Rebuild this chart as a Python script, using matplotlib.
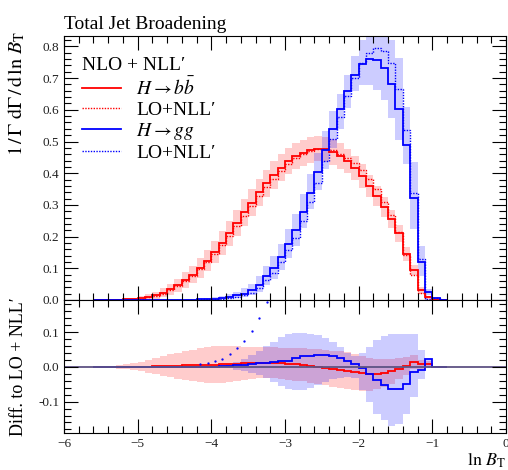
import numpy as np
import matplotlib
matplotlib.use("Agg")
import matplotlib.pyplot as plt
from matplotlib.ticker import MultipleLocator, FormatStrFormatter
from matplotlib.lines import Line2D

plt.rcParams['font.family'] = ['Liberation Serif', 'DejaVu Serif']
plt.rcParams['mathtext.fontset'] = 'stix'
plt.rcParams['axes.unicode_minus'] = True

# bin edges of ln B_T, 0.1 wide, from -5.6 to -0.8
edges = np.round(np.arange(-5.6, -0.75, 0.1), 1)

# H -> bb, NLO+NLL' and LO+NLL'
bb_nlo = [0.000, 0.000, 0.001, 0.001, 0.002, 0.003, 0.005, 0.009, 0.014, 0.022,
          0.033, 0.046, 0.062, 0.080, 0.101, 0.124, 0.151, 0.179, 0.210, 0.243,
          0.276, 0.307, 0.339, 0.368, 0.394, 0.417, 0.438, 0.454, 0.465, 0.473,
          0.477, 0.475, 0.467, 0.454, 0.438, 0.417, 0.391, 0.360, 0.328, 0.293,
          0.255, 0.210, 0.146, 0.094, 0.030, 0.008, 0.001, 0.000]
bb_lo = [0.000, 0.000, 0.001, 0.001, 0.001, 0.002, 0.004, 0.008, 0.012, 0.020,
         0.030, 0.043, 0.058, 0.076, 0.096, 0.119, 0.145, 0.172, 0.202, 0.234,
         0.266, 0.296, 0.327, 0.356, 0.382, 0.407, 0.429, 0.447, 0.459, 0.470,
         0.476, 0.477, 0.472, 0.462, 0.449, 0.431, 0.409, 0.381, 0.349, 0.310,
         0.267, 0.215, 0.143, 0.079, 0.023, 0.000, 0.001, 0.000]
bb_err = [0.000, 0.001, 0.001, 0.002, 0.003, 0.004, 0.006, 0.008, 0.011, 0.014,
          0.018, 0.021, 0.025, 0.028, 0.031, 0.034, 0.036, 0.038, 0.040, 0.041,
          0.042, 0.043, 0.043, 0.043, 0.043, 0.042, 0.042, 0.041, 0.041, 0.040,
          0.040, 0.040, 0.040, 0.040, 0.039, 0.038, 0.037, 0.035, 0.033, 0.031,
          0.029, 0.026, 0.022, 0.016, 0.010, 0.004, 0.001, 0.000]

# H -> gg, NLO+NLL' and LO+NLL'
gg_nlo = [0.000, 0.000, 0.000, 0.000, 0.000, 0.000, 0.000, 0.000, 0.000, 0.000,
          0.000, 0.000, 0.001, 0.001, 0.002, 0.003, 0.004, 0.006, 0.009, 0.014,
          0.020, 0.030, 0.048, 0.075, 0.100, 0.134, 0.176, 0.221, 0.278, 0.338,
          0.403, 0.473, 0.541, 0.603, 0.661, 0.709, 0.745, 0.759, 0.756, 0.732,
          0.682, 0.602, 0.488, 0.323, 0.120, 0.024, 0.005, 0.000]
gg_lo = [0.000, 0.000, 0.000, 0.000, 0.000, 0.000, 0.000, 0.000, 0.000, 0.000,
         0.000, 0.000, 0.001, 0.001, 0.002, 0.003, 0.003, 0.004, 0.006, 0.010,
         0.014, 0.022, 0.038, 0.063, 0.086, 0.118, 0.158, 0.196, 0.248, 0.308,
         0.370, 0.440, 0.509, 0.578, 0.644, 0.700, 0.749, 0.780, 0.794, 0.785,
         0.747, 0.667, 0.536, 0.337, 0.130, 0.002, 0.005, 0.000]
gg_up = [0.000, 0.000, 0.000, 0.000, 0.000, 0.000, 0.000, 0.000, 0.000, 0.000,
         0.000, 0.000, 0.001, 0.001, 0.002, 0.003, 0.004, 0.006, 0.008, 0.012,
         0.016, 0.021, 0.027, 0.033, 0.038, 0.043, 0.047, 0.050, 0.056, 0.060,
         0.062, 0.060, 0.055, 0.048, 0.050, 0.062, 0.075, 0.090, 0.095, 0.120,
         0.138, 0.162, 0.120, 0.111, 0.050, 0.010, 0.002, 0.000]
gg_dn = [0.000, 0.000, 0.000, 0.000, 0.000, 0.000, 0.000, 0.000, 0.000, 0.000,
         0.000, 0.000, 0.001, 0.001, 0.002, 0.002, 0.003, 0.004, 0.006, 0.009,
         0.012, 0.016, 0.022, 0.028, 0.034, 0.040, 0.045, 0.050, 0.050, 0.052,
         0.055, 0.060, 0.063, 0.062, 0.055, 0.048, 0.066, 0.080, 0.093, 0.100,
         0.107, 0.096, 0.060, 0.100, 0.044, 0.010, 0.002, 0.000]

# lower panel uncertainty bands
bb_diff_err = [0.001, 0.002, 0.003, 0.005, 0.007, 0.010, 0.014, 0.018, 0.023, 0.028,
               0.033, 0.038, 0.042, 0.046, 0.049, 0.052, 0.053, 0.053, 0.052, 0.050,
               0.048, 0.046, 0.045, 0.044, 0.044, 0.045, 0.046, 0.047, 0.048, 0.049,
               0.050, 0.051, 0.052, 0.053, 0.053, 0.052, 0.050, 0.047, 0.044, 0.040,
               0.036, 0.031, 0.026, 0.020, 0.014, 0.008, 0.002, 0.000]
gg_diff_hi = [0.000, 0.000, 0.000, 0.000, 0.000, 0.000, 0.000, 0.000, 0.000, 0.000,
              0.000, 0.000, 0.000, 0.000, 0.000, 0.000, 0.001, 0.003, 0.008, 0.015,
              0.024, 0.034, 0.046, 0.060, 0.072, 0.087, 0.096, 0.099, 0.099, 0.096,
              0.092, 0.082, 0.072, 0.058, 0.040, 0.032, 0.039, 0.058, 0.077, 0.089,
              0.094, 0.095, 0.095, 0.095, 0.048, 0.019, 0.000, 0.000]
gg_diff_lo = [0.000, 0.000, 0.000, 0.000, 0.000, 0.000, 0.000, 0.000, 0.000, 0.000,
              0.000, 0.000, 0.000, 0.000, 0.000, 0.000, -0.001, -0.002, -0.004, -0.008,
              -0.012, -0.018, -0.024, -0.032, -0.043, -0.056, -0.063, -0.066, -0.066, -0.060,
              -0.053, -0.043, -0.036, -0.031, -0.029, -0.031, -0.067, -0.101, -0.135, -0.154,
              -0.169, -0.164, -0.135, -0.087, -0.036, -0.002, 0.000, 0.000]

# isolated blue dots in the lower panel
gg_dot_x = [-4.15, -4.05, -3.95, -3.85, -3.75, -3.65, -3.55, -3.45, -3.35, -3.25]
gg_dot_y = [0.007, 0.010, 0.016, 0.024, 0.037, 0.053, 0.075, 0.104, 0.142, 0.188]

bb_nlo, bb_lo, bb_err = np.array(bb_nlo), np.array(bb_lo), np.array(bb_err)
gg_nlo, gg_lo = np.array(gg_nlo), np.array(gg_lo)
gg_up, gg_dn = np.array(gg_up), np.array(gg_dn)
bb_diff = bb_nlo - bb_lo
gg_diff = gg_nlo - gg_lo
bb_diff_err = np.array(bb_diff_err)

red = '#ff0000'
blue = '#0000ff'
dot = (0, (1, 1))

fig = plt.figure(figsize=(5.08, 4.70), dpi=100)
ax1 = fig.add_axes([0.126, 0.362, 0.870, 0.562])
ax2 = fig.add_axes([0.126, 0.079, 0.870, 0.283])

# main panel
ax1.stairs(bb_nlo + bb_err, edges, baseline=bb_nlo - bb_err, fill=True, color=red, alpha=0.2, lw=0)
ax1.stairs(gg_nlo + gg_up, edges, baseline=gg_nlo - gg_dn, fill=True, color=blue, alpha=0.2, lw=0)
ax1.stairs(bb_lo, edges, color=red, lw=1.0, ls=dot)
ax1.stairs(gg_lo, edges, color=blue, lw=1.0, ls=dot)
ax1.stairs(bb_nlo, edges, color=red, lw=1.3)
ax1.stairs(gg_nlo, edges, color=blue, lw=1.3)

# lower panel
ax2.stairs(bb_diff + bb_diff_err, edges, baseline=bb_diff - bb_diff_err, fill=True, color=red, alpha=0.2, lw=0)
ax2.stairs(gg_diff_hi, edges, baseline=gg_diff_lo, fill=True, color=blue, alpha=0.2, lw=0)
ax2.axhline(0, color='#5e5384', lw=1.3, zorder=1.5)
ax2.stairs(bb_diff, edges, color=red, lw=1.3)
ax2.stairs(gg_diff, edges, color=blue, lw=1.3)
ax2.plot(gg_dot_x, gg_dot_y, ls='none', marker='.', ms=1.3, color=blue)

for ax in (ax1, ax2):
    ax.set_xlim(-6, 0)
    ax.xaxis.set_major_locator(MultipleLocator(1))
    ax.xaxis.set_minor_locator(MultipleLocator(0.2))
    ax.yaxis.set_major_locator(MultipleLocator(0.1))
    ax.yaxis.set_minor_locator(MultipleLocator(0.02))
    ax.tick_params(which='both', direction='in', top=True, right=True, width=0.8,
                   labelsize=9.5, labelcolor='#222222')
    ax.tick_params(which='major', length=10)
    ax.tick_params(which='minor', length=5)
    for s in ax.spines.values():
        s.set_linewidth(0.8)

ax1.set_ylim(0, 0.834)
ax1.tick_params(labelbottom=False)
ax1.yaxis.set_major_formatter(FormatStrFormatter('%.1f'))
ax2.set_ylim(-0.19, 0.193)
ax2.yaxis.set_major_formatter(FormatStrFormatter('%.1f'))

ax1.set_title('Total Jet Broadening', loc='left', fontsize=14, pad=5)
ax1.set_ylabel(r'$1\,/\,\Gamma\ \mathrm{d}\Gamma\,/\,\mathrm{d}\,\ln\,B_\mathrm{T}$', loc='top', fontsize=14.5)
ax1.yaxis.set_label_coords(-0.083, 1.02)
ax2.set_ylabel('Diff. to LO + NLL′', fontsize=13)
ax2.yaxis.set_label_coords(-0.083, 0.5)
ax2.set_xlabel(r'$\ln\,B_\mathrm{T}$', loc='right', fontsize=13, labelpad=1)

handles = [Line2D([], [], color=red, lw=1.3),
           Line2D([], [], color=red, lw=1.0, ls=dot),
           Line2D([], [], color=blue, lw=1.3),
           Line2D([], [], color=blue, lw=1.0, ls=dot)]
labels = [r'$H \to b\bar{b}$', 'LO+NLL′', r'$H \to gg$', 'LO+NLL′']
ax1.legend(handles, labels, title='NLO + NLL′', loc='upper left',
           bbox_to_anchor=(0.04, 0.92), frameon=False, fontsize=14,
           title_fontsize=14, handlelength=2.0, handletextpad=0.8,
           labelspacing=0.12, borderpad=0, borderaxespad=0, alignment='left')

fig.savefig('out.png', dpi=100)
